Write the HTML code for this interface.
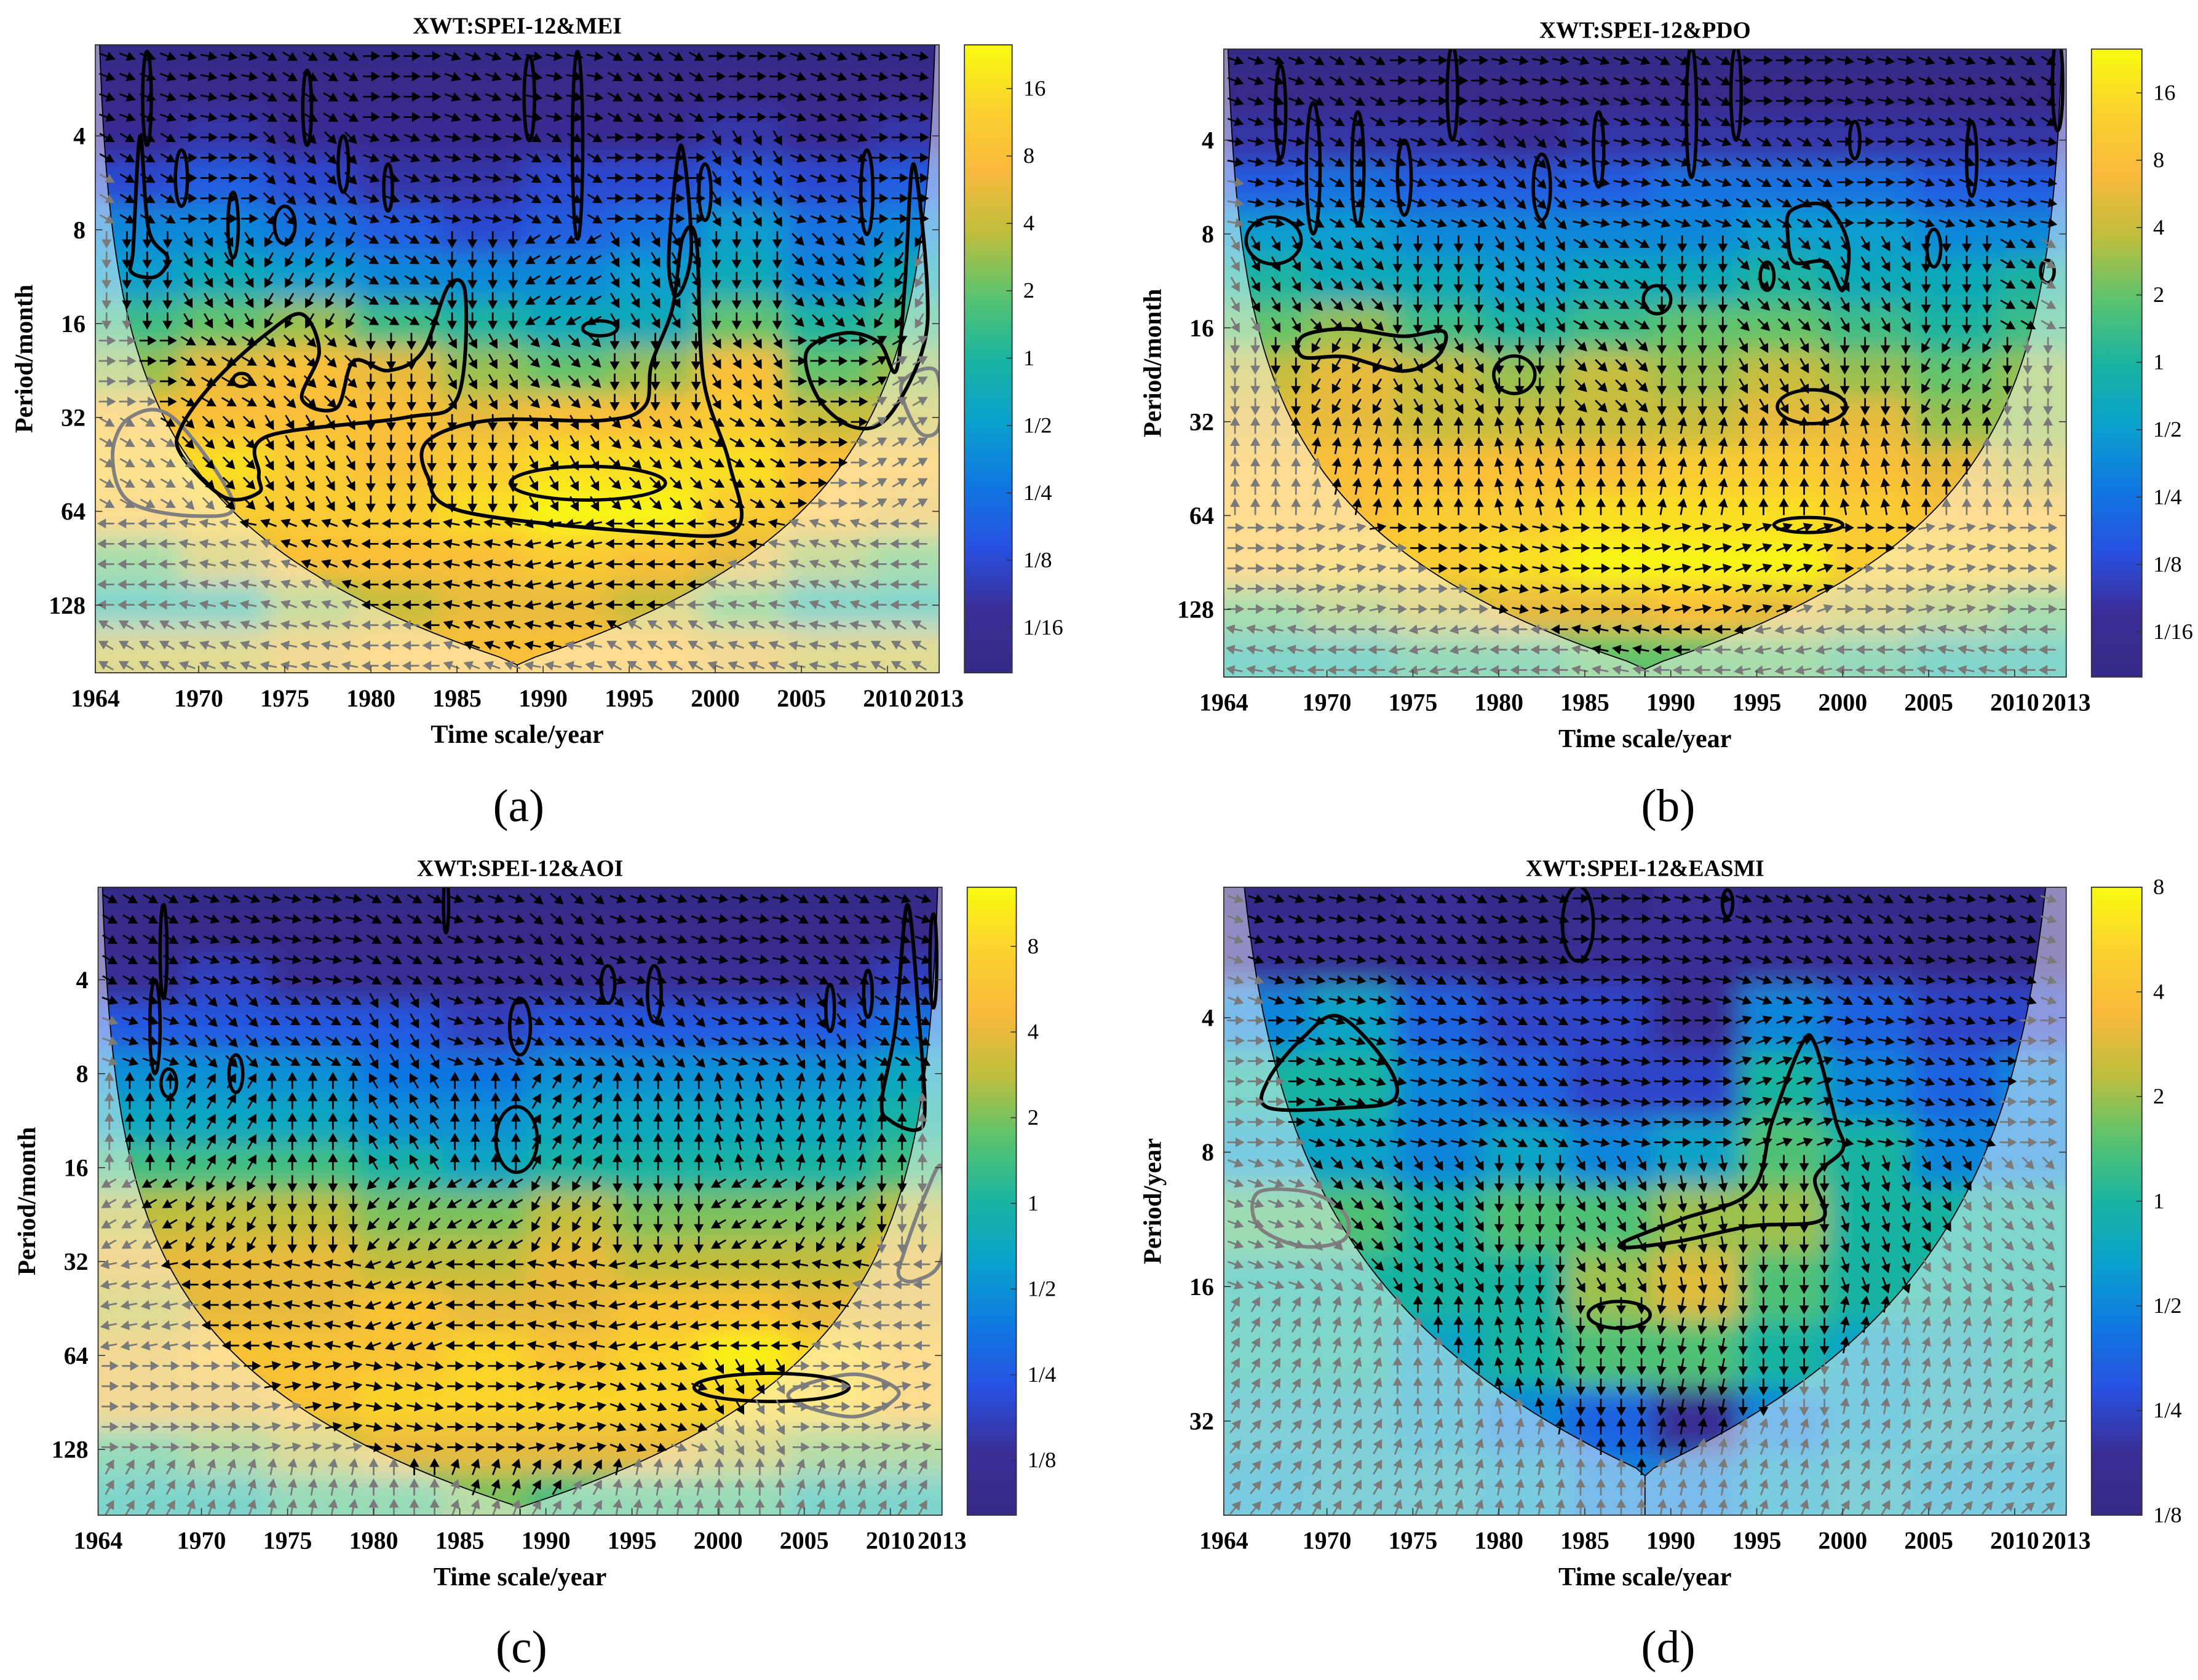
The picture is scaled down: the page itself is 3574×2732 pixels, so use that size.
<!DOCTYPE html>
<html><head><meta charset="utf-8"><style>
html,body{margin:0;padding:0;background:#fff;}
svg{display:block;}
text{font-family:"Liberation Serif","DejaVu Serif",serif;fill:#000;}
</style></head><body>
<svg id="fig" xmlns="http://www.w3.org/2000/svg" width="3574" height="2732" viewBox="0 0 1568 1198.6" preserveAspectRatio="none">
<defs id="defs"></defs>
</svg>
<script>
// ---------- data ----------
const yearTicks=[1964,1970,1975,1980,1985,1990,1995,2000,2005,2010,2013];
const periodTicksMonth=[4,8,16,32,64,128];
const periodTicksYear=[4,8,16,32];
const cbLabelsAB=['16','8','4','2','1','1/2','1/4','1/8','1/16'];
const cbValsAB=[4,3,2,1,0,-1,-2,-3,-4];
const cbLabelsCD=['8','4','2','1','1/2','1/4','1/8'];
const cbValsCD=[3,2,1,0,-1,-2,-3];
const heatCols=[1964,1969,1974,1979,1984,1989,1994,1999,2004,2009];
const rowsABC=[1,1.5,2,2.5,3,3.5,4,4.5,5,5.5,6,6.5,7,7.5];
const rowsD=[1,1.5,2,2.5,3,3.5,4,4.5,5,5.5];

const aPower=[
[-4.6,-4.6,-4.6,-4.6,-4.6,-4.6,-4.6,-4.6,-4.6,-4.6],
[-4.5,-4.5,-4.5,-4.5,-4.5,-4.5,-4.5,-4.5,-4.5,-4.5],
[-4,-3.5,-4,-4,-4,-4,-4,-3.5,-4,-3.5],
[-3,-2.5,-3,-3.5,-3.5,-3,-3,-2.5,-3,-2.5],
[-1.5,-1.5,-2,-2.5,-3,-2.5,-2,-1,-2,-1.5],
[-1,-0.5,-1,-1.5,-1.5,-1.5,-1,-0.5,-1.5,-0.5],
[0.5,1,1.5,0.5,0,-0.5,-0.5,1,0,0.5],
[1.5,2.5,3,2.5,1.5,1,1.5,3,1,1.5],
[3,3,3,3,2.5,3,3,3.5,2,2],
[3.5,4,3.5,3,3.5,4,4,4,3,3],
[3,3.5,3.5,3.5,4,4.5,4.5,3.5,3,2.5],
[1,2,3,3,3,3.5,3,2.5,1.5,1],
[0,0,1.5,2,2.5,2.5,2,1,0,0],
[2,2,2.5,3,3,3,3,2.5,2,2]];
const bPower=[
[-4.6,-4.6,-4.6,-4.6,-4.6,-4.6,-4.6,-4.6,-4.6,-4.6],
[-4.5,-4.5,-4.5,-4.5,-4.5,-4.5,-4.5,-4.5,-4.5,-4.5],
[-3.5,-3.5,-3.5,-4,-3.5,-3.5,-3.5,-3.5,-3.5,-3.5],
[-2.5,-2,-2.5,-2.5,-2.5,-2,-2,-2,-2.5,-2.5],
[-1,-1,-1.5,-1.5,-1.5,-1.5,-1,-1,-1.5,-1.5],
[0,-0.5,-0.5,-1,-0.5,-0.5,0,-0.5,-0.5,0],
[1,1.5,0.5,0,0.5,1,1,0.5,0,0.5],
[2,2.5,2,1.5,2,1.5,2,1.5,1,1.5],
[2.5,2.5,2,2,2,2,2.5,2.5,1.5,1.5],
[3,3,3,3,3,3.5,3.5,3,2.5,2],
[3,3,3.5,3.5,4,4,4,3.5,3,3],
[3,3.5,3.5,4,4.5,4.5,4.5,3.5,3.5,3.5],
[1,1.5,2,2.5,2.5,3,2.5,2,1.5,1],
[0,0,0.5,0.5,1,1,1,0.5,0,0]];
const cPower=[
[-3.6,-3.6,-3.6,-3.6,-3.6,-3.6,-3.6,-3.6,-3.6,-3.6],
[-3.5,-3.5,-3.5,-3.5,-3.5,-3.5,-3.5,-3.5,-3.5,-3.5],
[-3,-2.5,-3,-3,-3,-3,-3,-3,-3,-2.5],
[-2,-2,-2,-2,-2.5,-2,-2,-2,-2,-1.5],
[-1,-1,-1,-1.5,-1.5,-1,-1,-1,-1,-0.5],
[-0.5,-0.5,-0.5,-1,-1,-0.5,-0.5,-0.5,-0.5,0],
[0.5,0.5,0.5,0,-0.5,0,0,0,0,0.5],
[1.5,1.5,1.5,1,1,1.5,1,1,1,1.5],
[2,2,2,1.5,1.5,2,1.5,1.5,1.5,2],
[1.5,2,2,2.5,2,2,2.5,2.5,2,2],
[2,2.5,2.5,2.5,3,2.5,3,3.5,3,2.5],
[2,2,2.5,3,3,3,3,3,3,2.5],
[0.5,1,1.5,2,2,2,2,1.5,1,1],
[0,0,0.5,0.5,1,0.5,0.5,0.5,0,0]];
const dPower=[
[-3,-3,-2.5,-3,-3,-2.5,-3,-3,-3,-3],
[-2.5,-2.5,-2.5,-3,-2.5,-2.5,-2.5,-2.5,-3,-3],
[-1,-0.5,-1.5,-2,-2,-2.5,-1,-1.5,-2,-2],
[0,0,-1,-1.5,-2,-2,0,-1,-1.5,-1],
[-0.5,-0.5,-1,-0.5,-1,-0.5,0.5,0,-1,-1],
[0.5,0.5,0,0.5,0.5,1,1,0,0,0],
[0,0,0,0,1,1.5,0.5,0,0,0],
[0,0,-0.5,0,0.5,0.5,0,-0.5,-0.3,0],
[-0.3,-0.3,-0.5,-1,-1.5,-2.5,-1,-0.5,-0.3,-0.3],
[-0.5,-0.3,-0.3,-0.5,-1,-1,-0.5,-0.3,-0.5,-0.5]];

const aAngle=[
[-20,-10,-30,0,-20,-10,-30,0,-20,-10],
[-30,0,-45,-20,-10,-30,0,-60,-20,0],
[-90,-60,-120,-30,-90,-150,-60,-90,-45,-120],
[0,-30,-45,-90,-60,-45,-90,-60,0,30],
[-30,-45,-60,-90,-90,-60,-45,-30,0,30],
[180,170,160,180,170,-170,180,170,160,180],
[150,160,170,180,160,170,150,160,170,150]];
const bAngle=[
[-20,-30,0,-10,-20,-30,0,-10,-20,-30],
[-10,-30,-20,-45,-10,-20,-30,0,-20,-10],
[-60,-45,-90,-60,-30,-90,-45,-60,-90,-30],
[-90,-120,-60,-90,-45,-90,-60,-90,-120,-90],
[90,80,90,100,90,80,90,100,90,90],
[0,10,0,-10,0,10,20,0,10,0],
[170,180,-170,180,170,180,-170,180,170,180]];
const cAngle=[
[-30,-20,-10,-30,-20,-40,-20,-10,-30,-20],
[-20,-45,-30,-60,-20,-30,-45,-20,-60,-30],
[90,60,90,120,90,60,90,100,80,90],
[-150,-120,-90,-135,-150,-120,-90,-150,-120,-90],
[-170,180,170,-160,180,170,-170,180,170,180],
[0,0,10,-10,0,10,-20,-60,0,10],
[60,70,80,90,70,60,80,90,70,60]];
const dAngle=[
[-20,-10,-30,-20,0,-10,-20,-30,-10,-20],
[0,-20,-10,-30,-10,0,20,-10,-20,0],
[-20,-45,-60,-90,-60,-80,-90,-70,-60,-45],
[60,70,90,100,-90,-100,-90,80,70,60],
[50,60,70,80,90,80,70,60,50,40]];

const aContours=[
[[1969,5.1],[1971,4.6],[1974,4.1],[1976,3.9],[1977,4.3],[1976,4.8],[1978,4.9],[1979,4.4],[1981,4.5],[1983,4.3],[1984.5,3.6],[1985.5,3.7],[1985,4.8],[1982,5.0],[1974,5.2],[1973.5,5.6],[1973.5,5.8],[1971.5,5.85],[1969,5.4]],
[[1983.3,5.25],[1986.9,5.03],[1993.5,5.03],[1995.9,4.88],[1996.3,4.43],[1997.5,3.84],[1998.1,3.09],[1998.9,3.12],[1999.3,4.58],[2000.8,5.48],[2001.2,6.19],[1995.9,6.22],[1985.3,6.0],[1983.3,5.63]],
[[2005.3,4.3],[2007.5,4.1],[2009.5,4.2],[2010.5,4.5],[2011,3.6],[2011.5,2.3],[2012.3,3.6],[2012,4.3],[2010,5.0],[2008,5.1],[2006,4.8]],
[[1997.3,3.3],[1998,2.1],[1998.6,3.2],[1997.8,3.7]],
[[1966.2,3.2],[1966.6,2.0],[1967.1,3.0],[1968.2,3.3],[1967.5,3.5],[1966.1,3.45]]];
const aEllipses=[[1992.6,5.7,4.5,0.18],[1993.3,4.05,1,0.08],[1972.5,4.6,0.5,0.07],[1967,1.6,0.25,0.5],[1969,2.45,0.35,0.3],[1972,2.95,0.3,0.35],[1975,2.95,0.6,0.2],[1976.3,1.7,0.25,0.4],[1978.4,2.3,0.3,0.3],[1981,2.55,0.25,0.25],[1989.2,1.6,0.3,0.45],[1992,2.1,0.3,1.0],[1999.4,2.6,0.35,0.3],[2008.8,2.6,0.35,0.45]];
const aGrayContours=[
[[1968.5,5.0],[1966,5.0],[1965,5.4],[1966,5.9],[1970,6.05],[1972,5.9]],
[[2010.8,4.65],[2012.8,4.5],[2013,5.1],[2011.8,5.15]]];
const bContours=[
[[1968.6,4.09],[1971.1,4.01],[1974.4,4.09],[1976.8,4.04],[1976.4,4.31],[1974.4,4.46],[1971.1,4.31],[1968.6,4.31]],
[[1997,2.75],[1999,2.7],[2000.3,3.1],[2000,3.6],[1999,3.3],[1997.2,3.3],[1996.8,3.0]]];
const bEllipses=[[1980.9,4.5,1.2,0.2],[1998.2,4.84,2.0,0.18],[1998.0,6.1,2.0,0.08],[1966.9,3.07,1.6,0.25],[1982.5,2.5,0.5,0.35],[1989.2,3.7,0.8,0.15],[1995.6,3.45,0.4,0.15],[2005.3,3.15,0.4,0.2],[2011.9,3.4,0.4,0.12],[1969.2,2.3,0.4,0.7],[1971.8,2.3,0.35,0.6],[1974.5,2.4,0.4,0.4],[1977.3,1.5,0.3,0.5],[1985.8,2.1,0.3,0.4],[1991.2,1.7,0.3,0.7],[1993.8,1.5,0.3,0.5],[2000.7,2.0,0.3,0.2],[2007.5,2.2,0.3,0.4],[2012.5,1.4,0.3,0.5],[1967.3,1.7,0.3,0.5]];
const cContours=[
[[2009.5,3.3],[2010.3,2.5],[2011,1.2],[2011.7,2.5],[2012,3.4],[2011.5,3.6],[2010,3.5]]];
const cEllipses=[[2003.1,6.34,4.5,0.15],[1988.3,3.7,1.2,0.35],[1967.3,2.5,0.3,0.5],[1968.1,3.1,0.45,0.15],[1972,3.0,0.4,0.2],[1988.5,2.5,0.6,0.3],[1993.6,2.05,0.4,0.2],[1996.3,2.15,0.4,0.3],[2006.5,2.3,0.25,0.25],[2008.7,2.15,0.25,0.25],[2012.5,1.8,0.2,0.5],[1967.8,1.7,0.2,0.5],[1984.2,1.2,0.15,0.3]];
const cGrayContours=[
[[2010.8,4.9],[2012,4.3],[2013,4.0],[2013,4.95],[2011.5,5.2],[2010.5,5.15]],
[[2004.5,6.35],[2008,6.2],[2010.5,6.4],[2008,6.65],[2004.5,6.5]]];
const dContours=[
[[1966.6,2.46],[1968.6,2.15],[1970.7,1.99],[1973.5,2.35],[1973.9,2.61],[1971.1,2.67],[1966.6,2.67]],
[[1987.4,3.66],[1990.6,3.5],[1994.7,3.29],[1995.9,2.77],[1997.6,2.2],[1998.4,2.2],[1999.6,2.77],[2000,2.98],[1998.4,3.19],[1998.8,3.5],[1994.7,3.55],[1990.6,3.66],[1987.4,3.71]]];
const dEllipses=[[1987,4.21,1.8,0.1],[1984.6,1.3,0.9,0.28],[1993.3,1.15,0.3,0.1]];
const dGrayContours=[
[[1966,3.3],[1969,3.3],[1971,3.45],[1971,3.65],[1968.5,3.7],[1966,3.55]]];

// ---------- helpers ----------
const NS='http://www.w3.org/2000/svg';
const svg=document.getElementById('fig');
const defs=document.getElementById('defs');
function mk(tag,parent){const e=document.createElementNS(NS,tag);parent.appendChild(e);return e;}
const PAR=[[0,[54,42,135]],[0.1,[58,45,150]],[0.2,[40,80,225]],[0.3,[15,120,225]],[0.4,[10,160,205]],[0.5,[25,180,160]],[0.6,[90,195,110]],[0.7,[190,190,60]],[0.8,[250,185,60]],[0.9,[250,210,45]],[1,[249,251,14]]];
function col(t){t=Math.max(0,Math.min(1,t));for(let i=1;i<PAR.length;i++){if(t<=PAR[i][0]){const a=PAR[i-1],b=PAR[i];const f=(t-a[0])/(b[0]-a[0]);const c=a[1].map((v,k)=>Math.round(v+(b[1][k]-v)*f));return 'rgb('+c.join(',')+')';}}return 'rgb(249,251,14)';}
(function(){const lg=mk('linearGradient',defs);lg.setAttribute('id','parula');lg.setAttribute('x1','0');lg.setAttribute('y1','1');lg.setAttribute('x2','0');lg.setAttribute('y2','0');
PAR.forEach(s=>{const st=mk('stop',lg);st.setAttribute('offset',s[0]);st.setAttribute('stop-color',col(s[0]));});
const f=mk('filter',defs);f.setAttribute('id','blur');f.setAttribute('x','-10%');f.setAttribute('y','-10%');f.setAttribute('width','120%');f.setAttribute('height','120%');
const gb=mk('feGaussianBlur',f);gb.setAttribute('stdDeviation','9');})();

function smoothPath(pts){const n=pts.length;let d='M'+pts[0][0].toFixed(1)+','+pts[0][1].toFixed(1);
for(let i=0;i<n;i++){const p0=pts[(i-1+n)%n],p1=pts[i],p2=pts[(i+1)%n],p3=pts[(i+2)%n];
const c1=[p1[0]+(p2[0]-p0[0])/6,p1[1]+(p2[1]-p0[1])/6],c2=[p2[0]-(p3[0]-p1[0])/6,p2[1]-(p3[1]-p1[1])/6];
d+='C'+c1[0].toFixed(1)+','+c1[1].toFixed(1)+' '+c2[0].toFixed(1)+','+c2[1].toFixed(1)+' '+p2[0].toFixed(1)+','+p2[1].toFixed(1);}return d+'Z';}

function panel(P){
const g=mk('g',svg);


const xs=yr=>P.x0+(yr-1964)/(2013-1964)*(P.x1-P.x0);
const ys=l=>P.y0+(l-P.l0)/(P.l1-P.l0)*(P.y1-P.y0);
const yrOf=x=>1964+(x-P.x0)/(P.x1-P.x0)*49;
const lOf=y=>P.l0+(y-P.y0)/(P.y1-P.y0)*(P.l1-P.l0);
const cp=mk('clipPath',defs);cp.setAttribute('id','clip-'+P.id);
const cr=mk('rect',cp);cr.setAttribute('x',P.x0);cr.setAttribute('y',P.y0);cr.setAttribute('width',P.x1-P.x0);cr.setAttribute('height',P.y1-P.y0);
const clipG=mk('g',g);clipG.setAttribute('clip-path','url(#clip-'+P.id+')');


const heat=mk('g',clipG);heat.setAttribute('filter','url(#blur)');


const rows=P.rows;
rows.forEach((rl,ri)=>{heatCols.forEach((cy,ci)=>{
 const top=ri===0?P.l0-0.8:rl-0.25, bot=ri===rows.length-1?P.l1+0.8:rl+0.25;
 const x0=ci===0?xs(1958):xs(cy), x1=ci===heatCols.length-1?xs(2020):xs(cy+5);
 const r=mk('rect',heat);
 
 
 r.setAttribute('x',x0.toFixed(1));r.setAttribute('y',ys(top).toFixed(1));r.setAttribute('width',(x1-x0+0.5).toFixed(1));r.setAttribute('height',(ys(bot)-ys(top)+0.5).toFixed(1));
 r.setAttribute('fill',col((P.power[ri][ci]-P.vmin)/(P.vmax-P.vmin)));
});});
const half=(l)=>Math.pow(2,l)/P.k;
let L=[],R=[];
for(let i=0;i<=80;i++){const l=P.l0+(P.l1-P.l0)*i/80;let d=Math.min(half(l),24.5);L.push([xs(1964+d),ys(l)]);R.push([xs(2013-d),ys(l)]);}
const cone=L.concat(R.reverse());
const coneD='M'+cone.map(p=>p[0].toFixed(1)+','+p[1].toFixed(1)).join('L')+'Z';
const ov=mk('path',clipG);


ov.setAttribute('d','M'+(P.x0-5)+','+(P.y0-5)+'H'+(P.x1+5)+'V'+(P.y1+5)+'H'+(P.x0-5)+'Z'+coneD);
ov.setAttribute('fill-rule','evenodd');ov.setAttribute('fill','#fff');ov.setAttribute('fill-opacity','0.45');
const cl=mk('path',clipG);


cl.setAttribute('d',coneD);cl.setAttribute('fill','none');cl.setAttribute('stroke','#000');cl.setAttribute('stroke-width','0.8');
const drawC=(list,color,name)=>list.forEach(pts=>{const pp=pts.map(p=>[xs(p[0]),ys(p[1])]);const c=mk('path',clipG);
 
 
 c.setAttribute('d',smoothPath(pp));c.setAttribute('fill','none');c.setAttribute('stroke',color);c.setAttribute('stroke-width','2.6');});
drawC(P.gray,'#808080','insignificant-contour');
drawC(P.contours,'#000','significance-contour');
P.ellipses.forEach(e=>{const pts=[];for(let i=0;i<16;i++){const a=i/16*2*Math.PI;pts.push([e[0]+e[2]*Math.cos(a),e[1]+e[3]*Math.sin(a)]);}
 const pp=pts.map(p=>[xs(p[0]),ys(p[1])]);const c=mk('path',clipG);
 
 
 c.setAttribute('d',smoothPath(pp));c.setAttribute('fill','none');c.setAttribute('stroke','#000');c.setAttribute('stroke-width','2.4');});
const ag=mk('g',clipG);


for(let py=P.y0+8;py<P.y1;py+=14.5){for(let px=P.x0+8;px<P.x1;px+=14.5){
 const yr=yrOf(px),l=lOf(py);
 const ri=Math.max(0,Math.min(P.angle.length-1,Math.floor(l-1)));
 const ci=Math.max(0,Math.min(9,Math.floor((yr-1964)/5)));
 const ang=P.angle[ri][ci]*Math.PI/180;
 const d=Math.min(half(l),24.5);const inside=yr>=1964+d&&yr<=2013-d;
 const len=11,dx=Math.cos(ang),dy=-Math.sin(ang);
 const sx=px-dx*len/2,sy=py-dy*len/2,ex=px+dx*len/2,ey=py+dy*len/2;
 const hx1=ex-dx*4.5-dy*2.5,hy1=ey-dy*4.5+dx*2.5,hx2=ex-dx*4.5+dy*2.5,hy2=ey-dy*4.5-dx*2.5;
 const a=mk('path',ag);
 
 
 a.setAttribute('d','M'+sx.toFixed(1)+','+sy.toFixed(1)+'L'+ex.toFixed(1)+','+ey.toFixed(1)+'M'+ex.toFixed(1)+','+ey.toFixed(1)+'L'+hx1.toFixed(1)+','+hy1.toFixed(1)+'L'+hx2.toFixed(1)+','+hy2.toFixed(1)+'Z');
 const c=inside?'#000':'#7a7a7a';
 a.setAttribute('stroke',c);a.setAttribute('fill',c);a.setAttribute('stroke-width','1.2');
}}
const fr=mk('rect',g);


fr.setAttribute('x',P.x0);fr.setAttribute('y',P.y0);fr.setAttribute('width',P.x1-P.x0);fr.setAttribute('height',P.y1-P.y0);fr.setAttribute('fill','none');fr.setAttribute('stroke','#333');fr.setAttribute('stroke-width','0.8');
yearTicks.forEach(t=>{const x=xs(t);const tk=mk('line',g);
 
 
 tk.setAttribute('x1',x);tk.setAttribute('x2',x);tk.setAttribute('y1',P.y1);tk.setAttribute('y2',P.y1-5);tk.setAttribute('stroke','#333');tk.setAttribute('stroke-width','0.7');
 const tx=mk('text',g);
 
 
 tx.setAttribute('x',x);tx.setAttribute('y',P.y1+24);tx.setAttribute('text-anchor','middle');tx.setAttribute('font-size','17.5');tx.setAttribute('font-weight','bold');tx.textContent=t;});
P.yticks.forEach(t=>{const y=ys(Math.log2(t));const tk=mk('line',g);
 
 
 tk.setAttribute('x1',P.x0);tk.setAttribute('x2',P.x0+5);tk.setAttribute('y1',y);tk.setAttribute('y2',y);tk.setAttribute('stroke','#333');tk.setAttribute('stroke-width','0.7');
 const tk2=mk('line',g);
 
 
 tk2.setAttribute('x1',P.x1);tk2.setAttribute('x2',P.x1-5);tk2.setAttribute('y1',y);tk2.setAttribute('y2',y);tk2.setAttribute('stroke','#333');tk2.setAttribute('stroke-width','0.7');
 const tx=mk('text',g);
 
 
 tx.setAttribute('x',P.x0-7);tx.setAttribute('y',y+6);tx.setAttribute('text-anchor','end');tx.setAttribute('font-size','17.5');tx.setAttribute('font-weight','bold');tx.textContent=t;});
const cb=mk('rect',g);


cb.setAttribute('x',P.cbx0);cb.setAttribute('y',P.y0);cb.setAttribute('width',P.cbx1-P.cbx0);cb.setAttribute('height',P.y1-P.y0);cb.setAttribute('fill','url(#parula)');cb.setAttribute('stroke','#333');cb.setAttribute('stroke-width','0.8');
P.cbVals.forEach((v,i)=>{const y=P.y0+(P.vmax-v)/(P.vmax-P.vmin)*(P.y1-P.y0);
 const tk=mk('line',g);
 
 
 tk.setAttribute('x1',P.cbx1);tk.setAttribute('x2',P.cbx1-4);tk.setAttribute('y1',y);tk.setAttribute('y2',y);tk.setAttribute('stroke','#333');tk.setAttribute('stroke-width','0.7');
 const tx=mk('text',g);
 
 
 tx.setAttribute('x',P.cbx1+8);tx.setAttribute('y',y+5);tx.setAttribute('font-size','16');tx.textContent=P.cbLabels[i];});
const ti=mk('text',g);


ti.setAttribute('x',(P.x0+P.x1)/2);ti.setAttribute('y',P.y0-8);ti.setAttribute('text-anchor','middle');ti.setAttribute('font-size','16.5');ti.setAttribute('font-weight','bold');ti.textContent=P.title;
const xl=mk('text',g);


xl.setAttribute('x',(P.x0+P.x1)/2);xl.setAttribute('y',P.y1+50);xl.setAttribute('text-anchor','middle');xl.setAttribute('font-size','18.5');xl.setAttribute('font-weight','bold');xl.textContent='Time scale/year';
const yl=mk('text',g);


const yc=(P.y0+P.y1)/2;yl.setAttribute('transform','translate('+(P.x0-45)+','+yc+') rotate(-90)');yl.setAttribute('text-anchor','middle');yl.setAttribute('font-size','18');yl.setAttribute('font-weight','bold');yl.textContent=P.ylabel;
const sl=mk('text',g);


sl.setAttribute('x',P.labx);sl.setAttribute('y',P.laby);sl.setAttribute('text-anchor','middle');sl.setAttribute('font-size','33');sl.textContent='('+P.id+')';
}

panel({id:'a',title:'XWT:SPEI-12&MEI',x0:68,x1:670,y0:32,y1:480,l0:1.03,l1:7.72,vmin:-4.67,vmax:4.65,k:8,power:aPower,angle:aAngle,rows:rowsABC,contours:aContours,ellipses:aEllipses,gray:aGrayContours,yticks:periodTicksMonth,cbx0:688,cbx1:722,cbVals:cbValsAB,cbLabels:cbLabelsAB,ylabel:'Period/month',labx:370,laby:586});
panel({id:'b',title:'XWT:SPEI-12&PDO',x0:873,x1:1474,y0:35,y1:483,l0:1.03,l1:7.72,vmin:-4.67,vmax:4.65,k:8,power:bPower,angle:bAngle,rows:rowsABC,contours:bContours,ellipses:bEllipses,gray:[],yticks:periodTicksMonth,cbx0:1492,cbx1:1528,cbVals:cbValsAB,cbLabels:cbLabelsAB,ylabel:'Period/month',labx:1190,laby:586});
panel({id:'c',title:'XWT:SPEI-12&AOI',x0:70,x1:672,y0:633,y1:1081,l0:1.015,l1:7.70,vmin:-3.64,vmax:3.69,k:8,power:cPower,angle:cAngle,rows:rowsABC,contours:cContours,ellipses:cEllipses,gray:cGrayContours,yticks:periodTicksMonth,cbx0:690,cbx1:725,cbVals:cbValsCD,cbLabels:cbLabelsCD,ylabel:'Period/month',labx:372,laby:1186});
panel({id:'d',title:'XWT:SPEI-12&EASMI',x0:873,x1:1474,y0:633,y1:1081,l0:1.03,l1:5.70,vmin:-3,vmax:3,k:1.7,power:dPower,angle:dAngle,rows:rowsD,contours:dContours,ellipses:dEllipses,gray:dGrayContours,yticks:periodTicksYear,cbx0:1492,cbx1:1528,cbVals:cbValsCD,cbLabels:cbLabelsCD,ylabel:'Period/year',labx:1190,laby:1186});
</script>
</body></html>
